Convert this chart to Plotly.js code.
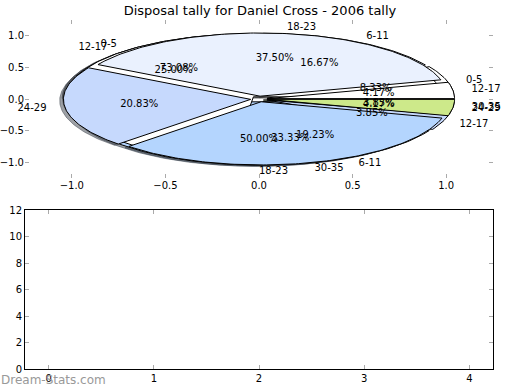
<!DOCTYPE html>
<html><head><meta charset="utf-8">
<script src="https://cdn.plot.ly/plotly-3.0.1.min.js"></script>
<style>html,body{margin:0;padding:0;background:#fff}</style>
</head><body>
<div id="chart" style="width:520px;height:390px"></div>
<script>
// ---- data ----
const chartTitle = "Disposal tally for Daniel Cross - 2006 tally";
const pieCLabels = ["0-5", "6-11", "12-17", "18-23"];
const pieCValues = [1, 2, 3, 6];
const pieBLabels = ["0-5", "6-11", "12-17", "30-35"];
const pieBValues = [19, 5, 1, 1];
const pieALabels = ["12-17", "18-23", "24-29", "30-35", "24-29"];
const pieAValues = [1, 9, 5, 8, 1];
const pieTickVals = [-1, -0.5, 0, 0.5, 1];
const pieTickText = ["\u22121.0", "\u22120.5", "0.0", "0.5", "1.0"];
const barXTicks = [0, 1, 2, 3, 4];
const barYTicks = [0, 2, 4, 6, 8, 10, 12];
const watermark = "Dream-Stats.com";

// ---- styles ----
const sliceColors = ['#ffffff', '#eaf1fe', '#c6d9fd', '#b4d5fe', '#cde98a'];
const EXPLODE = 0.045;
const FONT = "DejaVu Sans, sans-serif";

function hexRgb(h){ return [1,3,5].map(i=>parseInt(h.substr(i,2),16)); }

function wedges(labels, values){
  const total = values.reduce((a,b)=>a+b,0);
  let acc = 0; const out = [];
  values.forEach((v,i)=>{
    const t1 = acc/total*2*Math.PI; acc += v; const t2 = acc/total*2*Math.PI;
    const tm = (t1+t2)/2;
    const cx = EXPLODE*Math.cos(tm), cy = EXPLODE*Math.sin(tm);
    const n = Math.max(2, Math.ceil((t2-t1)/(Math.PI/180)));
    const xs = [cx], ys = [cy];
    for (let k=0;k<=n;k++){ const t = t1+(t2-t1)*k/n; xs.push(cx+Math.cos(t)); ys.push(cy+Math.sin(t)); }
    xs.push(cx); ys.push(cy);
    out.push({xs, ys, tm, cx, cy, label: labels[i], pct: (v/total*100).toFixed(2)+'%', color: sliceColors[i % sliceColors.length]});
  });
  return out;
}

const pies = [wedges(pieCLabels, pieCValues), wedges(pieBLabels, pieBValues), wedges(pieALabels, pieAValues)];
const traces = [];
// shadows (below all wedges)
pies.forEach(p => p.forEach(w => {
  const [r,g,b] = hexRgb(w.color).map(c=>Math.round(c*0.3));
  traces.push({type:'scatter', mode:'lines', x:w.xs.map(v=>v-0.02), y:w.ys.map(v=>v-0.02),
    fill:'toself', fillcolor:`rgba(${r},${g},${b},0.5)`, line:{color:`rgba(${r},${g},${b},0.5)`, width:1},
    hoverinfo:'skip', xaxis:'x', yaxis:'y'});
}));
// wedges
pies.forEach(p => p.forEach(w => {
  traces.push({type:'scatter', mode:'lines', x:w.xs, y:w.ys, fill:'toself', fillcolor:w.color,
    line:{color:'#000', width:1}, hoverinfo:'skip', xaxis:'x', yaxis:'y'});
}));
// labels and percentages
const lx=[], ly=[], lt=[], lp=[], px=[], py=[], pt=[];
pies.forEach(p => p.forEach(w => {
  const xt = w.cx + 1.1*Math.cos(w.tm), yt = w.cy + 1.1*Math.sin(w.tm);
  lx.push(xt); ly.push(yt); lt.push(w.label); lp.push(xt > -1e-9 ? 'middle right' : 'middle left');
  px.push(w.cx + 0.6*Math.cos(w.tm)); py.push(w.cy + 0.6*Math.sin(w.tm)); pt.push(w.pct);
}));
traces.push({type:'scatter', mode:'text', x:lx, y:ly, text:lt, textposition:lp, cliponaxis:false,
  textfont:{family:FONT, size:10, color:'#000'}, hoverinfo:'skip', xaxis:'x', yaxis:'y'});
traces.push({type:'scatter', mode:'text', x:px, y:py, text:pt, textposition:'middle center', cliponaxis:false,
  textfont:{family:FONT, size:10, color:'#000'}, hoverinfo:'skip', xaxis:'x', yaxis:'y'});
// empty lower chart
traces.push({type:'bar', x:[], y:[], xaxis:'x2', yaxis:'y2', hoverinfo:'skip'});

const dom = [25/520, 493/520];
const tickStyle = {ticks:'inside', ticklen:4, tickwidth:1, tickcolor:'#aaa', showgrid:false, zeroline:false,
  tickfont:{family:FONT, size:10, color:'#000'}};
const layout = {
  width:520, height:390, margin:{l:0, r:0, t:0, b:0}, showlegend:false,
  paper_bgcolor:'#fff', plot_bgcolor:'rgba(0,0,0,0)', font:{family:FONT, size:10, color:'#000'},
  title:{text:chartTitle, x:0.5, xanchor:'center', y:1-10/390, yanchor:'middle', font:{family:FONT, size:13, color:'#000'}},
  xaxis:Object.assign({}, tickStyle, {domain:dom, range:[-1.25,1.25], tickvals:pieTickVals, ticktext:pieTickText,
    showline:false, mirror:'ticks', anchor:'y', fixedrange:true}),
  yaxis:Object.assign({}, tickStyle, {domain:[1-178/390, 1-20/390], range:[-1.25,1.25], tickvals:pieTickVals, ticktext:pieTickText,
    showline:false, mirror:'ticks', anchor:'x', fixedrange:true}),
  xaxis2:Object.assign({}, tickStyle, {domain:dom, range:[-0.225,4.225], tickvals:barXTicks,
    showline:true, linecolor:'#000', linewidth:1, mirror:'ticks', anchor:'y2'}),
  yaxis2:Object.assign({}, tickStyle, {domain:[1-369/390, 1-210/390], range:[0,12], tickvals:barYTicks,
    showline:true, linecolor:'#000', linewidth:1, mirror:'ticks', anchor:'x2'}),
  annotations:[{text:watermark, xref:'paper', yref:'paper', x:0, y:1-380/390, xanchor:'left', yanchor:'middle',
    showarrow:false, borderpad:0, font:{family:FONT, size:12, color:'#999'}}]
};
Plotly.newPlot('chart', traces, layout, {staticPlot:true, displayModeBar:false});
</script>
</body></html>
